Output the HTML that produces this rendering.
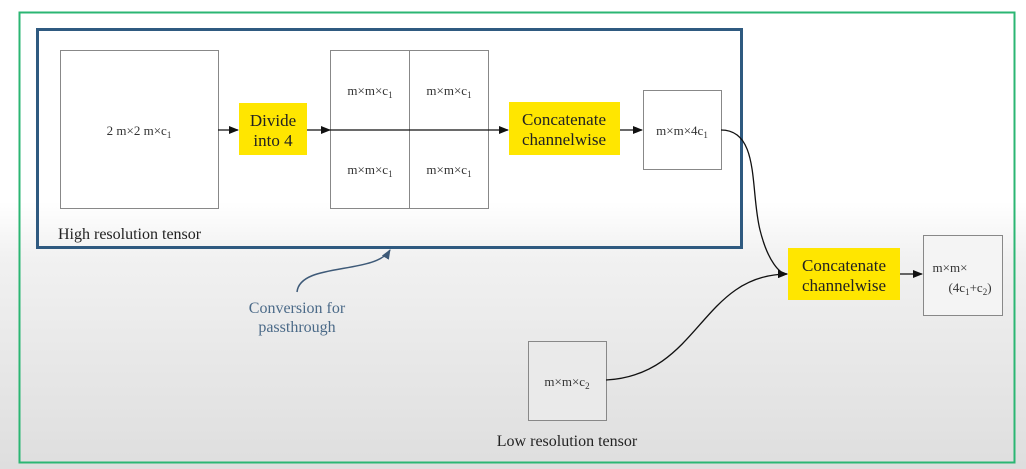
<!DOCTYPE html>
<html><head><style>
html,body{margin:0;padding:0;width:1026px;height:469px;overflow:hidden;background:#fff}
</style></head><body>
<svg width="1026" height="469" viewBox="0 0 1026 469" xmlns="http://www.w3.org/2000/svg" font-family="Liberation Serif, serif">
<defs>
<linearGradient id="bg" x1="0" y1="0" x2="0" y2="1">
<stop offset="0" stop-color="#ffffff"/>
<stop offset="0.43" stop-color="#ffffff"/>
<stop offset="0.55" stop-color="#f1f1f1"/>
<stop offset="1" stop-color="#dedede"/>
</linearGradient>
<marker id="ar" markerWidth="10" markerHeight="8" refX="9" refY="4" orient="auto" markerUnits="userSpaceOnUse">
<path d="M0,0 L10,4 L0,8 z" fill="#111"/></marker>
<marker id="ab" markerWidth="10" markerHeight="8" refX="9" refY="4" orient="auto" markerUnits="userSpaceOnUse">
<path d="M0,0 L10,4 L0,8 z" fill="#3e5a78"/></marker>
</defs>
<rect x="0" y="0" width="1026" height="469" fill="url(#bg)"/>
<rect x="19.5" y="12.5" width="995" height="450" fill="none" stroke="#2bb673" stroke-width="2"/>
<rect x="37.5" y="29.5" width="704" height="218" fill="none" stroke="#2f5a80" stroke-width="3"/>
<g fill="#fff" stroke="#888" stroke-width="1">
<rect x="60.5" y="50.5" width="158" height="158"/>
<rect x="330.5" y="50.5" width="158" height="158"/>
<rect x="643.5" y="90.5" width="78" height="79"/>
<rect x="923.5" y="235.5" width="79" height="80" fill="#f4f4f4"/>
<rect x="528.5" y="341.5" width="78" height="79" fill="#eaeaea"/>
</g>
<line x1="409.5" y1="50" x2="409.5" y2="208" stroke="#888"/>
<g fill="#ffe600">
<rect x="239" y="103" width="68" height="52"/>
<rect x="509" y="102" width="111" height="53"/>
<rect x="788" y="248" width="112" height="52"/>
</g>
<g stroke="#111" stroke-width="1.3" fill="none">
<line x1="218" y1="130" x2="238" y2="130" marker-end="url(#ar)"/>
<line x1="307" y1="130" x2="330" y2="130" marker-end="url(#ar)"/>
<line x1="330" y1="130" x2="508" y2="130" marker-end="url(#ar)"/>
<line x1="620" y1="130" x2="642" y2="130" marker-end="url(#ar)"/>
<line x1="900" y1="274" x2="922" y2="274" marker-end="url(#ar)"/>
<path d="M721,130 C760,130 750,190 760,230 C768,262 780,274 787,274" marker-end="url(#ar)"/>
<path d="M606,380 C700,375 700,275 787,274" marker-end="url(#ar)"/>
</g>
<path d="M297,292 C300,262 375,275 390,250" stroke="#3e5a78" stroke-width="1.5" fill="none" marker-end="url(#ab)"/>
<g fill="#333" font-size="13" text-anchor="middle">
<text x="139" y="135">2 m×2 m×c<tspan font-size="9" dy="3">1</tspan></text>
<text x="370" y="95">m×m×c<tspan font-size="9" dy="3">1</tspan></text>
<text x="449" y="95">m×m×c<tspan font-size="9" dy="3">1</tspan></text>
<text x="370" y="174">m×m×c<tspan font-size="9" dy="3">1</tspan></text>
<text x="449" y="174">m×m×c<tspan font-size="9" dy="3">1</tspan></text>
<text x="682" y="135">m×m×4c<tspan font-size="9" dy="3">1</tspan></text>
<text x="567" y="386">m×m×c<tspan font-size="9" dy="3">2</tspan></text>
<text x="950" y="272">m×m×</text>
<text x="970" y="292">(4c<tspan font-size="9" dy="3">1</tspan><tspan dy="-3">+c</tspan><tspan font-size="9" dy="3">2</tspan><tspan dy="-3">)</tspan></text>
</g>
<g fill="#222" font-size="17" text-anchor="middle">
<text x="273" y="126">Divide</text><text x="273" y="146">into 4</text>
<text x="564" y="125">Concatenate</text><text x="564" y="145">channelwise</text>
<text x="844" y="271">Concatenate</text><text x="844" y="291">channelwise</text>
</g>
<text x="58" y="239" font-size="16" fill="#222">High resolution tensor</text>
<text x="567" y="446" font-size="16" fill="#222" text-anchor="middle">Low resolution tensor</text>
<g fill="#4b6a88" font-size="16" text-anchor="middle">
<text x="297" y="313">Conversion for</text>
<text x="297" y="332">passthrough</text>
</g>
</svg>
</body></html>
